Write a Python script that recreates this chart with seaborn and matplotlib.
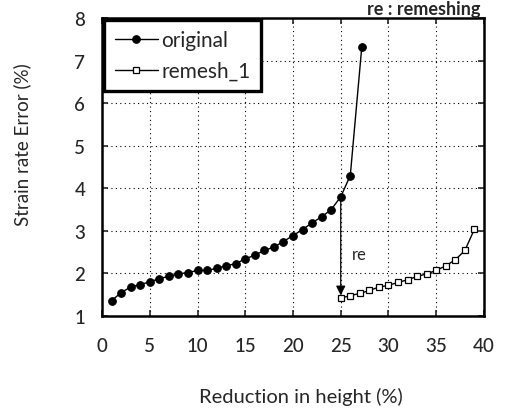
import matplotlib
matplotlib.use("Agg")
import matplotlib.pyplot as plt
import seaborn as sns
import pandas as pd

# Data
orig_x = [1, 2, 3, 4, 5, 6, 7, 8, 9, 10, 11, 12, 13, 14, 15, 16, 17, 18, 19, 20,
          21, 22, 23, 24, 25, 26, 27.2]
orig_y = [1.36, 1.55, 1.68, 1.74, 1.80, 1.88, 1.93, 1.99, 2.02, 2.07, 2.07, 2.12,
          2.18, 2.23, 2.34, 2.43, 2.54, 2.62, 2.75, 2.89, 3.03, 3.19, 3.33, 3.50,
          3.80, 4.30, 7.31]
rem_x = [25, 26, 27, 28, 29, 30, 31, 32, 33, 34, 35, 36, 37, 38, 39]
rem_y = [1.42, 1.48, 1.53, 1.60, 1.68, 1.72, 1.79, 1.85, 1.93, 1.99, 2.07, 2.18,
         2.32, 2.54, 3.04]
x_ticks = [0, 5, 10, 15, 20, 25, 30, 35, 40]
y_ticks = [1, 2, 3, 4, 5, 6, 7, 8]

sns.set_style("white")
plt.rcParams['font.family'] = ['Lato', 'DejaVu Sans']

df_o = pd.DataFrame({"x": orig_x, "y": orig_y})
df_r = pd.DataFrame({"x": rem_x, "y": rem_y})

fig = plt.figure(figsize=(5.07, 4.10), dpi=100)
ax = fig.add_axes([0.2012, 0.2268, 0.7534, 0.7269])

sns.lineplot(data=df_o, x="x", y="y", ax=ax, color="black", lw=1.0,
             marker="o", markersize=5.5, markeredgecolor="black",
             label="original", sort=False)
sns.lineplot(data=df_r, x="x", y="y", ax=ax, color="black", lw=1.0,
             marker="s", markersize=4.8, markerfacecolor="white",
             markeredgecolor="black", markeredgewidth=0.9,
             label="remesh_1", sort=False)

ax.set_xlim(0, 40)
ax.set_ylim(1, 8)
ax.set_xticks(x_ticks)
ax.set_yticks(y_ticks)
ax.grid(True, color="black", linestyle=(0, (1, 3)), linewidth=0.8)
for s in ax.spines.values():
    s.set_linewidth(1.8)
    s.set_color("black")
ax.tick_params(direction="in", length=4, width=1.2, labelsize=13.5,
               top=True, right=True, bottom=True, left=True,
               labeltop=False, labelright=False)
ax.tick_params(axis="x", pad=15)
ax.tick_params(axis="y", pad=12)
for lab in ax.get_xticklabels() + ax.get_yticklabels():
    lab.set_fontweight("medium")

ax.set_xlabel("Reduction in height (%)", fontsize=14.5, va="center")
ax.set_ylabel("Strain rate Error (%)", fontsize=13.5, va="center")
ax.xaxis.set_label_coords(0.52, -0.268)
ax.yaxis.set_label_coords(-0.209, 0.58)

# remesh arrow
ax.annotate("", xy=(rem_x[0], rem_y[0]), xytext=(orig_x[24], orig_y[24]),
            arrowprops=dict(arrowstyle="-|>", color="black", lw=0.9,
                            mutation_scale=14))
ax.text(26.9, 2.45, "re", fontsize=12, ha="center", va="center")
ax.text(0.99, 1.012, "re : remeshing", transform=ax.transAxes, ha="right",
        va="baseline", fontsize=13, fontweight="bold")

leg = ax.legend(loc="upper left", bbox_to_anchor=(0.0, 1.0), fontsize=15,
                frameon=True, fancybox=False, borderaxespad=0.1,
                handlelength=2.1, handletextpad=0.15, labelspacing=0.5,
                borderpad=0.5)
leg.get_frame().set_edgecolor("black")
leg.get_frame().set_linewidth(2.4)
leg.get_frame().set_alpha(1)

fig.savefig("out.png", dpi=100)
